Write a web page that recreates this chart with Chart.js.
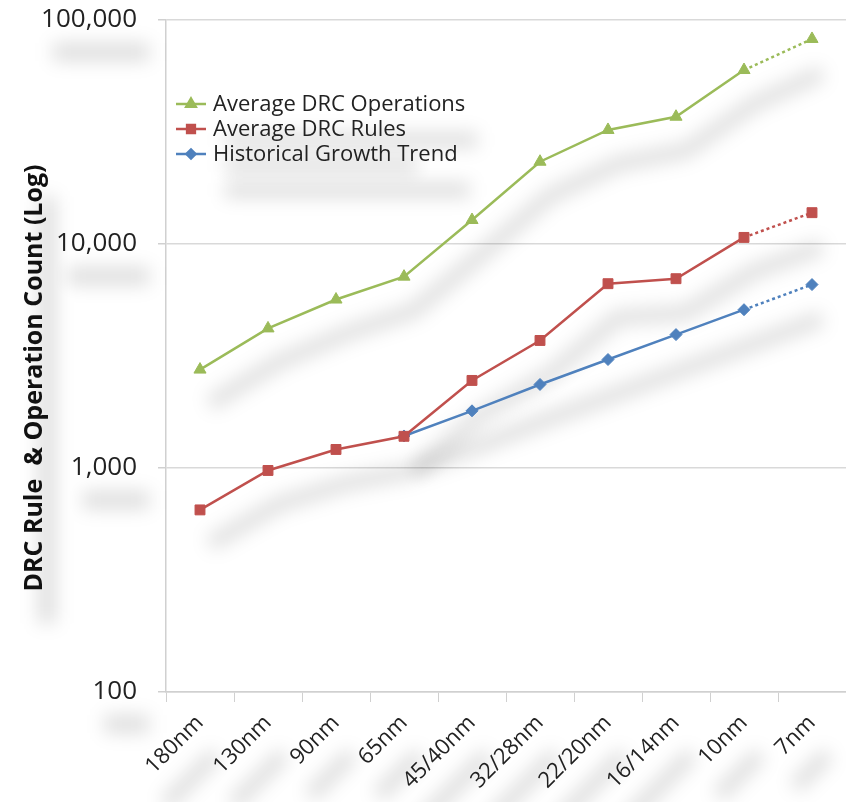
<!DOCTYPE html>
<html>
<head>
<meta charset="utf-8">
<script src="https://cdn.jsdelivr.net/npm/chart.js@4/dist/chart.umd.min.js"></script>
<style>
  html, body { margin: 0; padding: 0; background: #fff; }
  #wrap { width: 846px; height: 802px; }
</style>
</head>
<body>
<div id="wrap"><canvas id="drcChart"></canvas></div>
<script>
// Data
const nodes = ['180nm', '130nm', '90nm', '65nm', '45/40nm', '32/28nm', '22/20nm', '16/14nm', '10nm', '7nm'];
const drcOperations = [2750, 4200, 5650, 7150, 12800, 23300, 32300, 37000, 59800, 82300];
const drcRules = [650, 975, 1210, 1385, 2460, 3710, 6650, 7000, 10700, 13800];
const growthTrend = [null, null, null, 1390, 1800, 2360, 3050, 3940, 5090, 6590];
const yTicks = [100, 1000, 10000, 100000];
const yTitle = 'DRC Rule  & Operation Count (Log)';

const seriesLabels = ['Average DRC Operations', 'Average DRC Rules', 'Historical Growth Trend'];
const seriesColors = ['#9bbb59', '#c0504d', '#4f81bd'];
const seriesMarkers = ['triangle', 'rect', 'rectRot'];

const fontFamily = '"Open Sans", Lato, sans-serif';
const fmt = v => Number(v).toLocaleString('en-US');

// last segment (10nm -> 7nm) is a projection, drawn dotted
const projected = {
    borderDash: ctx => ctx.p1DataIndex === nodes.length - 1 ? [3, 3] : undefined
};

// soft grey smudge under a text, like the shadows in the original
function shadowText(ctx, text, x, y, font, align, angle) {
    ctx.save();
    ctx.font = font;
    const w = ctx.measureText(text).width;
    const h = parseInt(font.match(/(\d+)px/)[1], 10) * 0.7;
    ctx.translate(x + 12, y + 32);
    ctx.rotate(angle || 0);
    let x0 = -w / 2;
    if (align === 'right') x0 = -w;
    if (align === 'left') x0 = 0;
    ctx.filter = 'blur(9px)';
    ctx.fillStyle = 'rgba(0,0,0,0.13)';
    ctx.fillRect(x0, -h / 2, w, h);
    ctx.restore();
}

// Soft blurred drop shadows under the lines and the texts
const shadowPlugin = {
    id: 'shadows',
    beforeDatasetsDraw(chart) {
        const ctx = chart.ctx;
        const area = chart.chartArea;
        const xs = chart.scales.x, ys = chart.scales.y;

        ctx.save();
        ctx.filter = 'blur(9px)';
        ctx.strokeStyle = 'rgba(0,0,0,0.12)';
        ctx.lineWidth = 16;
        ctx.lineJoin = 'round';
        chart.data.datasets.forEach((ds, i) => {
            const pts = chart.getDatasetMeta(i).data.filter(p => !p.skip);
            ctx.beginPath();
            pts.forEach((p, j) => {
                if (j === 0) ctx.moveTo(p.x + 10, p.y + 34);
                else ctx.lineTo(p.x + 10, p.y + 34);
            });
            ctx.stroke();
        });
        ctx.restore();

        yTicks.forEach(v => {
            shadowText(ctx, fmt(v), area.left - 29, ys.getPixelForValue(v), '26px ' + fontFamily, 'right');
        });
        nodes.forEach((n, i) => {
            shadowText(ctx, n, xs.getPixelForTick(i) + 4, area.bottom + 30, '22px ' + fontFamily, 'right', -Math.PI / 4);
        });
        chart.data.datasets.forEach((ds, i) => {
            shadowText(ctx, ds.label, area.left + 47, area.top + 88 + i * 25, '22px ' + fontFamily, 'left');
        });
        shadowText(ctx, yTitle, 35, (area.top + area.bottom) / 2 + 22, 'bold 25px ' + fontFamily, 'center', -Math.PI / 2);
    }
};

// Legend drawn inside the plot, top-left
const innerLegend = {
    id: 'innerLegend',
    afterDatasetsDraw(chart) {
        const ctx = chart.ctx;
        const area = chart.chartArea;
        ctx.save();
        ctx.font = '22px ' + fontFamily;
        ctx.textBaseline = 'middle';
        chart.data.datasets.forEach((ds, i) => {
            const y = area.top + 84 + i * 25;
            const x0 = area.left + 10;
            ctx.strokeStyle = ds.borderColor;
            ctx.lineWidth = 2.5;
            ctx.beginPath();
            ctx.moveTo(x0, y);
            ctx.lineTo(x0 + 30, y);
            ctx.stroke();
            Chart.helpers.drawPoint(ctx, {
                pointStyle: ds.pointStyle,
                radius: ds.pointRadius - 1.5,
                borderWidth: 1
            }, x0 + 15, y);
            ctx.fillStyle = ds.backgroundColor;
            ctx.fill();
            ctx.fillStyle = '#222';
            ctx.fillText(ds.label, x0 + 37, y + 1);
        });
        ctx.restore();
    }
};

// Rotated y-axis title, sitting a little below the axis middle as in the original
const yTitlePlugin = {
    id: 'yTitle',
    afterDraw(chart) {
        const ctx = chart.ctx;
        const area = chart.chartArea;
        ctx.save();
        ctx.translate(35, (area.top + area.bottom) / 2 + 22);
        ctx.rotate(-Math.PI / 2);
        ctx.font = 'bold 25px ' + fontFamily;
        ctx.fillStyle = '#111';
        ctx.textAlign = 'center';
        ctx.textBaseline = 'middle';
        ctx.fillText(yTitle, 0, 0);
        ctx.restore();
    }
};

function makeSet(i, values) {
    return {
        label: seriesLabels[i],
        data: values,
        borderColor: seriesColors[i],
        backgroundColor: seriesColors[i],
        borderWidth: 2.5,
        pointStyle: seriesMarkers[i],
        pointRadius: i === 2 ? 6 : 7,
        pointBorderWidth: 1,
        segment: projected,
        spanGaps: false,
        tension: 0
    };
}

new Chart(document.getElementById('drcChart'), {
    type: 'line',
    data: {
        labels: nodes,
        datasets: [
            makeSet(0, drcOperations),
            makeSet(1, drcRules),
            makeSet(2, growthTrend)
        ]
    },
    options: {
        responsive: true,
        maintainAspectRatio: false,
        animation: false,
        layout: { autoPadding: false, padding: { top: 20, right: -4, left: 0, bottom: 0 } },
        plugins: {
            legend: { display: false },
            tooltip: { enabled: false }
        },
        scales: {
            x: {
                offset: true,
                grid: {
                    offset: true,
                    drawOnChartArea: false,
                    drawTicks: true,
                    tickLength: 10,
                    tickColor: '#d0d0d0'
                },
                border: { color: '#d0d0d0', width: 1.5 },
                ticks: {
                    minRotation: 45,
                    maxRotation: 45,
                    padding: 8,
                    color: '#222',
                    font: { family: fontFamily, size: 22 }
                },
                afterFit(scale) {
                    scale.height = 110;
                    scale.paddingLeft = 0;
                    scale.paddingRight = 0;
                }
            },
            y: {
                type: 'logarithmic',
                min: 100,
                max: 100000,
                afterBuildTicks(scale) {
                    scale.ticks = yTicks.map(v => ({ value: v, major: true }));
                },
                grid: {
                    color: '#d9d9d9',
                    lineWidth: 1.5,
                    tickLength: 8,
                    tickColor: '#d0d0d0'
                },
                border: { color: '#d0d0d0', width: 1.5 },
                ticks: {
                    padding: 21,
                    color: '#222',
                    font: { family: fontFamily, size: 26 },
                    callback: v => fmt(v)
                },
                afterFit(scale) {
                    scale.width = 166;
                    scale.paddingTop = 0;
                    scale.paddingBottom = 0;
                }
            }
        }
    },
    plugins: [shadowPlugin, innerLegend, yTitlePlugin]
});
</script>
</body>
</html>
